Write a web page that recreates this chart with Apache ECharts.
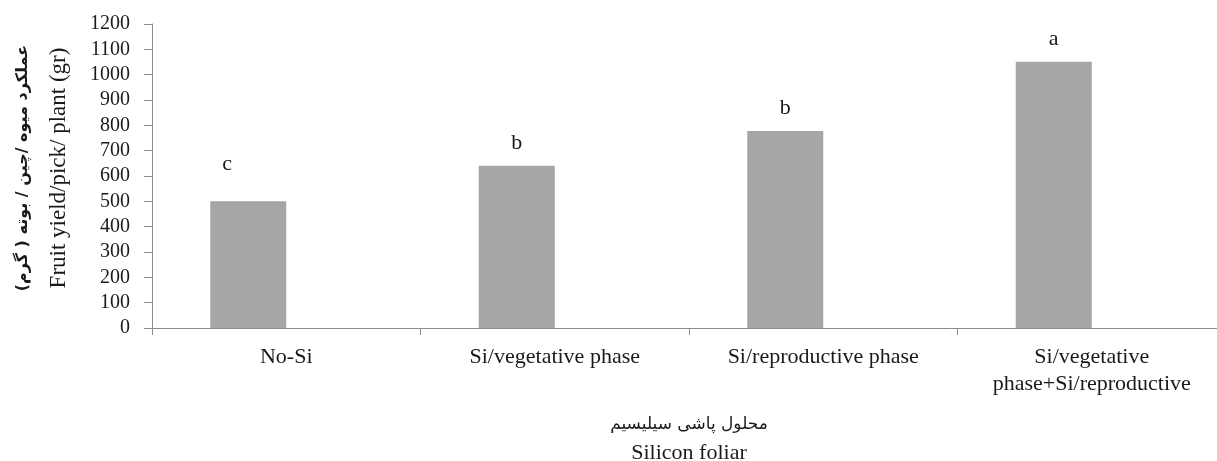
<!DOCTYPE html>
<html>
<head>
<meta charset="utf-8">
<script src="https://cdn.jsdelivr.net/npm/echarts@6/dist/echarts.min.js"></script>
<style>
html,body{margin:0;padding:0;background:#fff;}
#chart{width:1217px;height:461px;}
</style>
</head>
<body>
<div id="chart"></div>
<script>
const categories = ['No-Si', 'Si/vegetative phase', 'Si/reproductive phase', 'Si/vegetative\nphase+Si/reproductive'];
const yieldValues = [500, 640, 778, 1051];
const letters = ['c', 'b', 'b', 'a'];
const yTicks = { min: 0, max: 1200, interval: 100 };
const yNameFa = '\u200Fعملکرد میوه /چین / بوته ( گرم)\u200F';
const yNameEn = 'Fruit yield/pick/ plant (gr)';
const xNameFa = 'محلول پاشی سیلیسیم';
const xNameEn = 'Silicon foliar';

const serif = 'Liberation Serif, DejaVu Serif, serif';
const axisColor = '#8c8c8c';
const textColor = '#1a1a1a';

const chart = echarts.init(document.getElementById('chart'), null, { renderer: 'canvas' });

const letterOffsets = [[-21, -14], [0, 0], [0, 0], [0, 0]];

chart.setOption({
  animation: false,
  backgroundColor: '#ffffff',
  grid: { left: 152, right: -9, top: 24, bottom: 133, containLabel: false, outerBoundsMode: 'none' },
  xAxis: {
    type: 'category',
    data: categories,
    boundaryGap: true,
    axisLine: { show: true, lineStyle: { color: axisColor, width: 1 } },
    axisTick: { show: true, length: 7, lineStyle: { color: axisColor } },
    axisLabel: {
      interval: 0,
      margin: 16,
      fontFamily: serif,
      fontSize: 22,
      lineHeight: 27,
      color: textColor,
      align: 'center'
    },
    name: '{fa|' + xNameFa + '}\n{en|' + xNameEn + '}',
    nameLocation: 'middle',
    nameGap: 82,
    nameTextStyle: {
      rich: {
        fa: { fontFamily: 'DejaVu Sans, sans-serif', fontSize: 17, color: textColor, lineHeight: 29, align: 'center' },
        en: { fontFamily: serif, fontSize: 22, color: textColor, lineHeight: 29, align: 'center' }
      }
    }
  },
  yAxis: {
    type: 'value',
    min: yTicks.min,
    max: yTicks.max,
    interval: yTicks.interval,
    splitLine: { show: false },
    axisLine: { show: true, lineStyle: { color: axisColor, width: 1 } },
    axisTick: { show: true, length: 8, lineStyle: { color: axisColor } },
    axisLabel: {
      margin: 22,
      fontFamily: serif,
      fontSize: 20,
      color: textColor,
      formatter: v => String(v)
    },
    name: '{fa|' + yNameFa + '}\n{en|' + yNameEn + '}',
    nameLocation: 'middle',
    nameGap: 75,
    nameTextStyle: {
      padding: [0, 0, 0, 16],
      rich: {
        fa: { fontFamily: 'DejaVu Sans, sans-serif', fontSize: 16, fontWeight: 'bold', color: textColor, lineHeight: 36, align: 'center' },
        en: { fontFamily: serif, fontSize: 23, color: textColor, lineHeight: 36, align: 'center' }
      }
    }
  },
  series: [
    {
      type: 'bar',
      data: yieldValues.map((v, i) => ({
        value: v,
        label: { offset: letterOffsets[i] }
      })),
      barWidth: 76,
      barGap: '0%',
      itemStyle: { color: '#a6a6a6' },
      label: {
        show: true,
        position: 'top',
        distance: 12,
        fontFamily: serif,
        fontSize: 22,
        color: textColor,
        formatter: p => letters[p.dataIndex]
      }
    },
    {
      type: 'bar',
      data: categories.map(() => null),
      barWidth: 76,
      barGap: '0%',
      itemStyle: { color: 'transparent' }
    }
  ]
});
</script>
</body>
</html>
